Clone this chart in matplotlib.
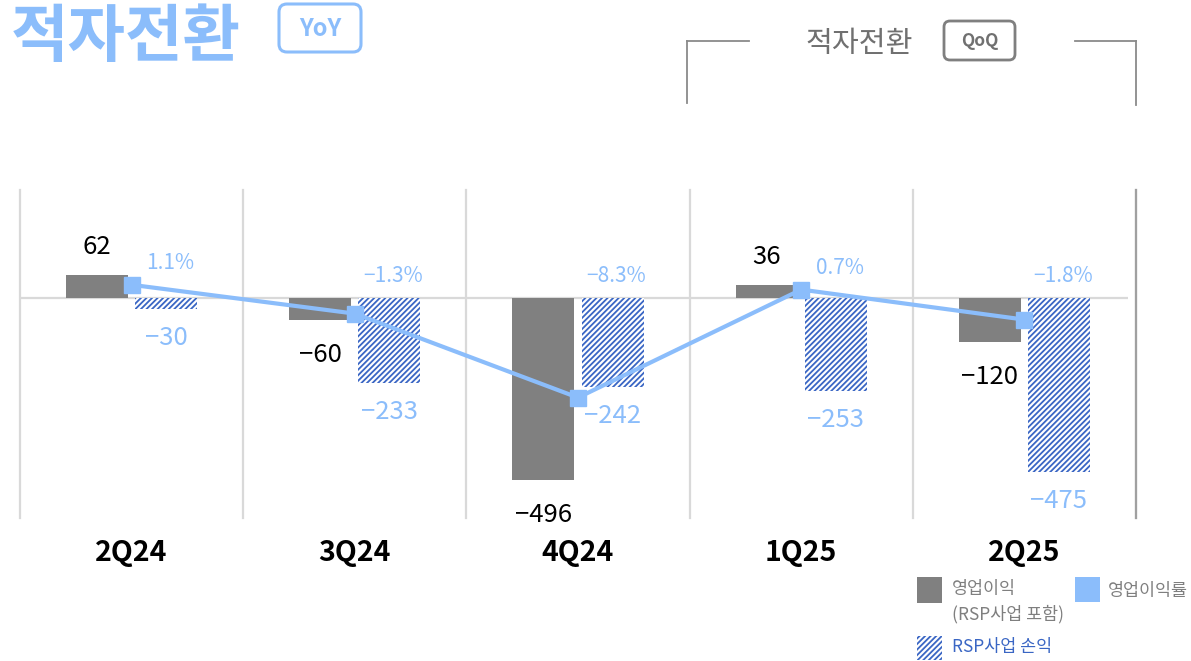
import matplotlib
matplotlib.use('Agg')
import matplotlib.pyplot as plt
from matplotlib.patches import FancyBboxPatch, Rectangle
from matplotlib.lines import Line2D
from matplotlib.transforms import IdentityTransform
import numpy as np

# ---- data ----
categories = ['2Q24', '3Q24', '4Q24', '1Q25', '2Q25']
op_income = [62, -60, -496, 36, -120]          # 영업이익 (RSP사업 포함)
rsp_loss = [-30, -233, -242, -253, -475]       # RSP사업 손익
op_margin = [1.1, -1.3, -8.3, 0.7, -1.8]       # 영업이익률 (%)

# ---- style ----
plt.rcParams['font.family'] = ['Noto Sans CJK KR', 'DejaVu Sans']
plt.rcParams['hatch.linewidth'] = 1.3

GREY = '#808080'
LBLUE = '#8BBDFB'
HBLUE = '#3A66C4'
GRID = '#d9d9d9'

W, H = 1191, 661
fig = plt.figure(figsize=(W / 100, H / 100), dpi=100)
PX = IdentityTransform()


def fx(px):
    return px / W


def fy(py):
    return 1 - py / H


ax = fig.add_axes([fx(20), fy(518), fx(1136) - fx(20), fy(190) - fy(518)])
ax2 = ax.twinx()

x = np.arange(len(categories))
off, bw = 0.155, 0.278

ax.set_xlim(-0.5, len(categories) - 0.5)
ax.set_ylim(-601, 295)
ax2.set_ylim(-18.33, 9.0)

for a in (ax, ax2):
    for s in a.spines.values():
        s.set_visible(False)
    a.set_yticks([])
    a.tick_params(length=0)
ax.set_xticks([])

# grid lines
for b in np.arange(-0.5, len(categories)):
    ax.axvline(b, color=GRID, lw=1.6, zorder=0, clip_on=False)
ax.axvline(len(categories) - 0.5, color='#a0a0a0', lw=1.6, zorder=0, clip_on=False)
ax.hlines(0, -0.5, 4.465, color=GRID, lw=1.6, zorder=0.5)

# bars
ax.bar(x - off, op_income, width=bw, color=GREY, zorder=2)
ax.bar(x + off, rsp_loss, width=bw, facecolor='white', edgecolor=HBLUE,
       hatch='//////', linewidth=0, zorder=2)

# line
ax2.plot(x, op_margin, color=LBLUE, lw=3, marker='s', ms=11.5, zorder=5)

# labels
for i, v in enumerate(op_income):
    dy = 28 if v >= 0 else -35
    ax.annotate(f'{v}'.replace('-', '\u2212'), xy=(x[i] - off, v), xytext=(0, dy),
                textcoords='offset pixels', ha='center', va='center',
                fontsize=18.5, fontweight='medium', color='black', zorder=6)
for i, v in enumerate(rsp_loss):
    ax.annotate(f'{v}'.replace('-', '\u2212'), xy=(x[i] + off, v), xytext=(0, -29),
                textcoords='offset pixels', ha='center', va='center',
                fontsize=18.5, fontweight='medium', color=LBLUE, zorder=6)
for i, v in enumerate(op_margin):
    ax2.annotate(f'{v:.1f}%'.replace('-', '\u2212'), xy=(x[i] + off, max(v, 0)),
                 xytext=(4, 22), textcoords='offset pixels', ha='center',
                 va='center', fontsize=15, color=LBLUE, zorder=6)
for i, c in enumerate(categories):
    ax.annotate(c, xy=(x[i], 0), xycoords=ax.get_xaxis_transform(),
                xytext=(0, -35), textcoords='offset pixels', ha='center',
                va='center', fontsize=20.5, fontweight='bold', color='black')

# ---- title (YoY) ----
fig.text(fx(126), fy(38), '적자전환', fontsize=45, fontweight='bold',
         color=LBLUE, ha='center', va='center')
fig.add_artist(FancyBboxPatch((279, H - 52), 82, 48,
                              boxstyle='round,pad=0,rounding_size=8',
                              transform=PX, facecolor='white',
                              edgecolor=LBLUE, lw=2.2))
fig.text(fx(320), fy(29), 'YoY', fontsize=17, fontweight='bold',
         color=LBLUE, ha='center', va='center')

# ---- QoQ bracket ----
BR = '#8a8a8a'
for xs, ys in [((687, 749), (41, 41)), ((687, 687), (41, 103)),
               ((1075, 1136), (41, 41)), ((1136, 1136), (41, 105))]:
    fig.add_artist(Line2D(xs, [H - y for y in ys], transform=PX, color=BR, lw=1.3))
fig.text(fx(859), fy(44), '적자전환', fontsize=21, fontweight='medium',
         color='#707070', ha='center', va='center')
fig.add_artist(FancyBboxPatch((944, H - 60), 71, 39,
                              boxstyle='round,pad=0,rounding_size=6',
                              transform=PX, facecolor='white',
                              edgecolor='#7f7f7f', lw=2))
fig.text(fx(980), fy(41), 'QoQ', fontsize=12.5, fontweight='bold',
         color='#707070', ha='center', va='center')

# ---- legend ----
LG = '#7f7f7f'
fig.add_artist(Rectangle((917, H - 603), 25, 26, transform=PX, facecolor=GREY, lw=0))
fig.text(fx(952), fy(589), '영업이익', fontsize=12.5, color=LG, ha='left', va='center')
fig.text(fx(952), fy(614), '(RSP사업 포함)', fontsize=12.5, color=LG, ha='left', va='center')
fig.add_artist(Rectangle((1075, H - 602), 25, 25, transform=PX, facecolor=LBLUE, lw=0))
fig.text(fx(1108), fy(591), '영업이익률', fontsize=12.5, color=LG, ha='left', va='center')
fig.add_artist(Rectangle((917, H - 660), 25, 24, transform=PX, facecolor='white',
                         edgecolor=HBLUE, hatch='//////', lw=0))
fig.text(fx(952), fy(647), 'RSP사업 손익', fontsize=12.5, color=HBLUE, ha='left', va='center')

fig.savefig('out.png', dpi=100)
